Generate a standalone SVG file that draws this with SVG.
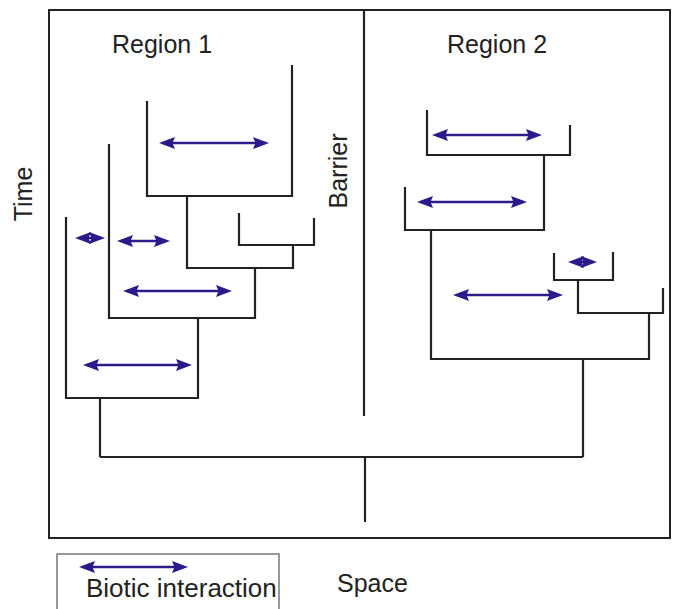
<svg xmlns="http://www.w3.org/2000/svg" width="676" height="609" viewBox="0 0 676 609">
<defs>
<style>
.frame{fill:none;stroke:#222;stroke-width:2}
.legend{fill:none;stroke:#777;stroke-width:1.5}
.br{fill:none;stroke:#222;stroke-width:2.2;stroke-linejoin:miter}
.bio{fill:none;stroke:#2b1a8a;stroke-width:2.4;marker-start:url(#ah);marker-end:url(#ah)}
.lbl{font-family:"Liberation Sans",Arial,Helvetica,sans-serif;font-size:25px;fill:#222}
</style>
<marker id="ah" markerUnits="userSpaceOnUse" viewBox="0 0 16 12" markerWidth="16" markerHeight="12" refX="12" refY="6" orient="auto-start-reverse">
<path d="M0,0 L16,6 L0,12 L2.5,6 Z" fill="#2b1a8a"/>
</marker>
</defs>
<rect id="plot-frame" class="frame" x="49" y="10" width="621" height="528"/>
<g id="connectors">
<path class="br" d="M364,10 V416"/>
<path class="br" d="M100,457 H583"/>
<path class="br" d="M365,457 V522"/>
<path class="br" d="M66,217 V398 H198 V318"/>
<path class="br" d="M100,398 V457"/>
<path class="br" d="M109,144 V318 H255 V268"/>
<path class="br" d="M187,196 V268 H293 V245"/>
<path class="br" d="M147,101 V196 H292 V65"/>
<path class="br" d="M239,213 V245 H314 V218"/>
<path class="br" d="M427,110 V155 H570 V125"/>
<path class="br" d="M405,187 V230 H544 V155"/>
<path class="br" d="M431,230 V359 H649 V313"/>
<path class="br" d="M578,280 V313 H663 V288"/>
<path class="br" d="M554,253 V280 H613 V252"/>
<path class="br" d="M583,359 V457"/>
</g>
<g id="interactions">
<path class="bio" d="M163,143 H265"/>
<path class="bio" d="M79,238 H101"/>
<path class="bio" d="M121,241 H166"/>
<path class="bio" d="M127,291 H228"/>
<path class="bio" d="M87,365 H188"/>
<path class="bio" d="M436,135 H538"/>
<path class="bio" d="M421,202 H523"/>
<path class="bio" d="M572,262 H593"/>
<path class="bio" d="M457,295 H559"/>
</g>
<g id="region1"><text class="lbl" x="112" y="53">Region 1</text></g>
<g id="region2"><text class="lbl" x="447" y="53">Region 2</text></g>
<g id="time"><text class="lbl" transform="translate(32,194) rotate(-90)" text-anchor="middle">Time</text></g>
<g id="barrier"><text class="lbl" transform="translate(347,171) rotate(-90)" text-anchor="middle">Barrier</text></g>
<g id="legend">
<rect class="legend" x="57" y="554" width="222" height="60"/>
<path class="bio" d="M83,567 H184"/>
<text class="lbl" x="86" y="597" style="font-size:26px">Biotic interaction</text>
</g>
<g id="space"><text class="lbl" x="337" y="592">Space</text></g>
</svg>
